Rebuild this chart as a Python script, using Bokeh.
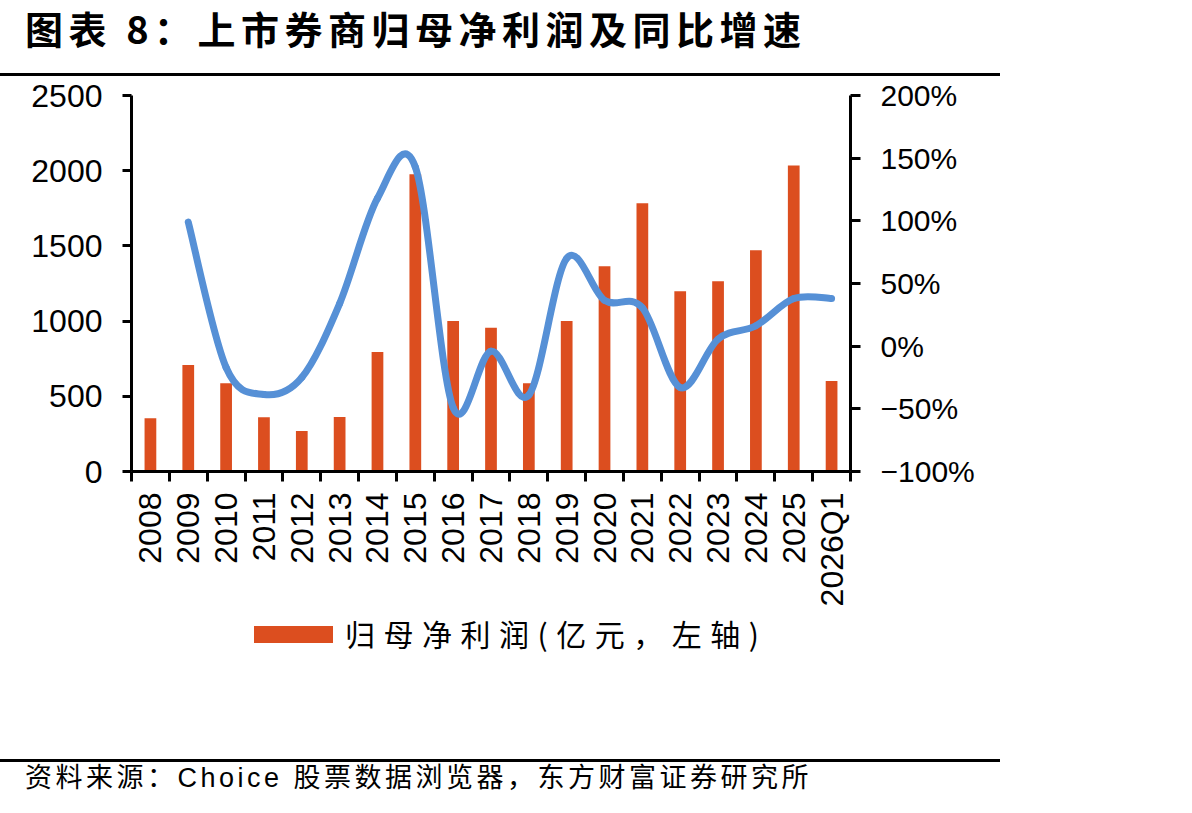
import math
from bokeh.plotting import figure
from bokeh.layouts import column
from bokeh.models import Range1d, LinearAxis, FixedTicker, ColumnDataSource, Div
from bokeh.embed import file_html
from bokeh.resources import INLINE

# ---------------- data ----------------
categories = ["2008", "2009", "2010", "2011", "2012", "2013", "2014", "2015", "2016",
              "2017", "2018", "2019", "2020", "2021", "2022", "2023", "2024", "2025", "2026Q1"]
profit = [354, 708, 587, 361, 270, 363, 794, 1977, 1000, 956, 587, 1000, 1365, 1783,
          1198, 1265, 1471, 2035, 602]
growth_categories = categories[1:]
growth = [99, -17, -38.5, -25, 34, 118, 143, -49, -4, -39, 70, 36.5, 30.6, -33, 5.6,
          16.3, 38, 38]
left_ticks = [0, 500, 1000, 1500, 2000, 2500]
right_ticks = [-100, -50, 0, 50, 100, 150, 200]
right_labels = ["−100%", "−50%", "0%", "50%", "100%", "150%", "200%"]

title_text = "图表 8：上市券商归母净利润及同比增速"
legend_text = "归母净利润(亿元，左轴)"
source_text = "资料来源：Choice 股票数据浏览器，东方财富证券研究所"

# ---------------- layout ----------------
W, H = 1192, 813
TOP_H = 76          # title block height
FIG_BOTTOM = 615    # page y where the figure ends
FL, FR, FT, FB = 131, 850, 95, 471   # frame edges in page pixels
BAR_COLOR = "#DC4E1F"
LINE_COLOR = "#5690D6"
LATIN = "Liberation Sans"
CJK = "Noto Sans CJK SC"

p = figure(width=W, height=FIG_BOTTOM - TOP_H,
           x_range=Range1d(0, len(categories)), y_range=Range1d(0, 2500),
           output_backend="svg", toolbar_location=None,
           min_border_left=FL, min_border_right=W - FR, min_border_top=FT - TOP_H,
           min_border_bottom=FIG_BOTTOM - FB, outline_line_color=None,
           background_fill_color="white", border_fill_color="white", margin=0)
p.xgrid.visible = False
p.ygrid.visible = False
p.extra_y_ranges = {"pct": Range1d(-100, 200)}

# bars
xc = [i + 0.5 for i in range(len(categories))]
bar_src = ColumnDataSource(dict(x=xc, top=profit, cat=categories))
p.vbar(x="x", top="top", width=0.31, bottom=0, source=bar_src,
       fill_color=BAR_COLOR, line_color=None)

# smooth growth line (bezier segments through the data points)
gx = [categories.index(c) + 0.5 for c in growth_categories]
n = len(growth)
seg = dict(x0=[], y0=[], x1=[], y1=[], cx0=[], cy0=[], cx1=[], cy1=[])
for i in range(n - 1):
    pm = max(i - 1, 0)
    pn = min(i + 2, n - 1)
    seg["x0"].append(gx[i]); seg["y0"].append(growth[i])
    seg["x1"].append(gx[i + 1]); seg["y1"].append(growth[i + 1])
    seg["cx0"].append(gx[i] + (gx[i + 1] - gx[pm]) / 6)
    seg["cy0"].append(growth[i] + (growth[i + 1] - growth[pm]) / 6)
    seg["cx1"].append(gx[i + 1] - (gx[pn] - gx[i]) / 6)
    seg["cy1"].append(growth[i + 1] - (growth[pn] - growth[i]) / 6)
p.bezier(x0="x0", y0="y0", x1="x1", y1="y1", cx0="cx0", cy0="cy0", cx1="cx1", cy1="cy1",
         source=ColumnDataSource(seg), y_range_name="pct",
         line_color=LINE_COLOR, line_width=7, line_cap="round")

# left axis
ya = p.yaxis[0]
ya.ticker = FixedTicker(ticks=left_ticks)
ya.axis_line_width = 3
ya.axis_line_color = "black"
ya.major_tick_line_width = 3
ya.major_tick_in = 0
ya.major_tick_out = 9
ya.minor_tick_line_color = None
ya.major_label_text_font = LATIN
ya.major_label_text_font_size = "32px"
ya.major_label_text_color = "black"
ya.major_label_standoff = 20

# right axis
ra = LinearAxis(y_range_name="pct", ticker=FixedTicker(ticks=right_ticks),
                major_label_overrides={t: l for t, l in zip(right_ticks, right_labels)})
ra.axis_line_width = 3
ra.major_tick_line_width = 3
ra.major_tick_in = 0
ra.major_tick_out = 10
ra.minor_tick_line_color = None
ra.major_label_text_font = LATIN
ra.major_label_text_font_size = "30px"
ra.major_label_text_color = "black"
ra.major_label_standoff = 20
p.add_layout(ra, "right")

# bottom axis
xa = p.xaxis[0]
xa.ticker = FixedTicker(ticks=xc, minor_ticks=list(range(len(categories) + 1)))
xa.major_label_overrides = {x: c for x, c in zip(xc, categories)}
xa.major_label_orientation = math.pi / 2
xa.axis_line_width = 3
xa.major_tick_line_color = None
xa.major_tick_in = 0
xa.major_tick_out = 0
xa.minor_tick_line_width = 3
xa.minor_tick_line_color = "black"
xa.minor_tick_in = 0
xa.minor_tick_out = 10
xa.major_label_text_font = LATIN
xa.major_label_text_font_size = "32px"
xa.major_label_text_color = "black"
xa.major_label_standoff = 11

# ---------------- title block ----------------
title_html = (
    f'<div style="position:relative;width:{W}px;height:{TOP_H}px;margin:0;padding:0;overflow:visible;">'
    f'<div style="position:absolute;left:25px;top:0px;font-family:\'{CJK}\';font-weight:bold;'
    f'font-size:38px;line-height:56px;letter-spacing:5.5px;white-space:nowrap;color:black;">'
    f'{title_text}</div>'
    f'<div style="position:absolute;left:0;top:72.5px;width:1000px;height:3px;background:black;"></div>'
    f'</div>'
)
title_div = Div(text=title_html, width=W, height=TOP_H, margin=0)

# ---------------- legend + source block ----------------
BOT_H = H - FIG_BOTTOM
bottom_html = (
    f'<div style="position:relative;width:{W}px;height:{BOT_H}px;margin:0;padding:0;">'
    f'<div style="position:absolute;left:254px;top:{626 - FIG_BOTTOM}px;width:79px;height:17px;'
    f'background:{BAR_COLOR};"></div>'
    f'<div style="position:absolute;left:345px;top:{633 - FIG_BOTTOM - 22}px;font-family:\'{CJK}\';'
    f'font-size:30px;line-height:44px;letter-spacing:8.5px;white-space:nowrap;color:black;">'
    f'{legend_text}</div>'
    f'<div style="position:absolute;left:0;top:{759 - FIG_BOTTOM}px;width:1000px;height:2.5px;'
    f'background:black;"></div>'
    f'<div style="position:absolute;left:25px;top:{778 - FIG_BOTTOM - 20}px;'
    f'font-family:\'{LATIN}\',\'{CJK}\';font-size:27px;line-height:40px;letter-spacing:3.5px;'
    f'white-space:nowrap;color:black;">{source_text}</div>'
    f'</div>'
)
bottom_div = Div(text=bottom_html, width=W, height=BOT_H, margin=0)

layout = column(title_div, p, bottom_div, spacing=0)
open("out.html", "w").write(file_html(layout, INLINE))
